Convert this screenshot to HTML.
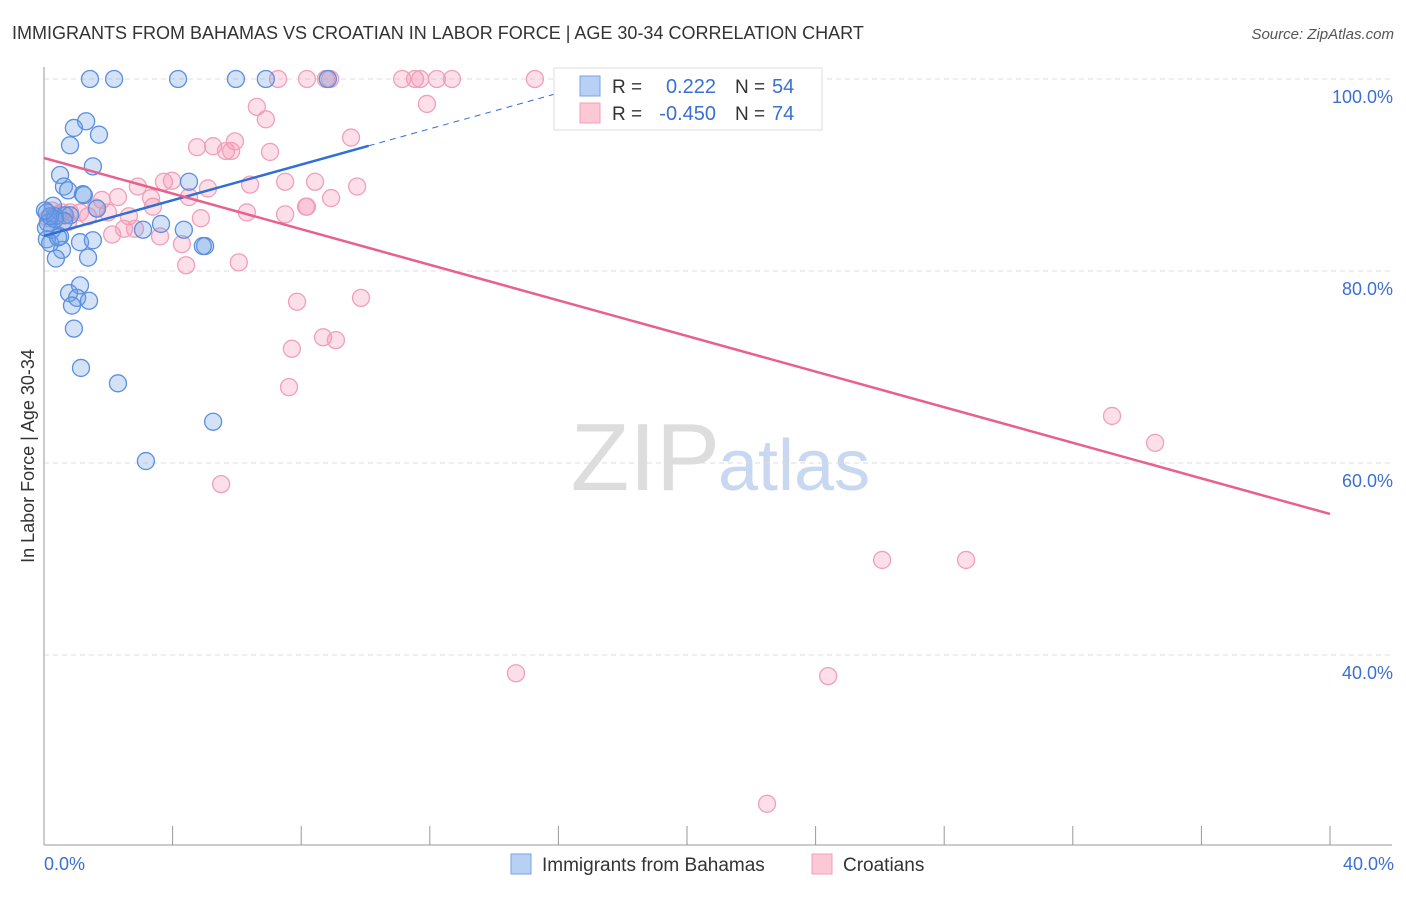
<!DOCTYPE html>
<html><head><meta charset="utf-8"><style>
body{margin:0;background:#fff;font-family:"Liberation Sans",sans-serif;}
svg text{font-family:"Liberation Sans",sans-serif;}
</style></head><body>
<svg width="1406" height="892" viewBox="0 0 1406 892" xmlns="http://www.w3.org/2000/svg">
<text x="12" y="39" font-size="18" fill="#333">IMMIGRANTS FROM BAHAMAS VS CROATIAN IN LABOR FORCE | AGE 30-34 CORRELATION CHART</text>
<text x="1394" y="39" font-size="15" fill="#555" font-style="italic" text-anchor="end">Source: ZipAtlas.com</text>
<text x="720" y="490" font-size="96" fill="#ddd" text-anchor="end" font-family="Liberation Serif">ZIP</text>
<text x="718" y="490" font-size="72" fill="#c8d8f0">atlas</text>
<g id="grid"></g>
<g id="axes"></g>
<g id="pts"></g>
<g id="trend"></g>
<text transform="translate(34,456) rotate(-90)" font-size="18" fill="#333" text-anchor="middle">In Labor Force | Age 30-34</text>
<text x="44" y="870" font-size="18" fill="#3b6fd0">0.0%</text>
<text x="1394" y="870" font-size="18" fill="#3b6fd0" text-anchor="end">40.0%</text>
<g>
<rect x="554" y="68" width="268" height="62" fill="#fff" stroke="#ddd"/>
<rect x="580" y="76" width="20" height="20" fill="#b8d0f4" stroke="#7aa3e6"/>
<rect x="580" y="103" width="20" height="20" fill="#fcc8d6" stroke="#f2a0b8"/>
<text x="612" y="93" font-size="19" fill="#333">R =</text><text x="716" y="93" font-size="20" fill="#3b6fd0" text-anchor="end">0.222</text>
<text x="735" y="93" font-size="19" fill="#333">N =</text><text x="772" y="93" font-size="20" fill="#3b6fd0">54</text>
<text x="612" y="120" font-size="19" fill="#333">R =</text><text x="716" y="120" font-size="20" fill="#3b6fd0" text-anchor="end">-0.450</text>
<text x="735" y="120" font-size="19" fill="#333">N =</text><text x="772" y="120" font-size="20" fill="#3b6fd0">74</text>
</g>
<g>
<rect x="511" y="854" width="20" height="20" fill="#b8d0f4" stroke="#7aa3e6"/>
<text x="542" y="871" font-size="19" fill="#333">Immigrants from Bahamas</text>
<rect x="812" y="854" width="20" height="20" fill="#fcc8d6" stroke="#f2a0b8"/>
<text x="843" y="871" font-size="19" fill="#333">Croatians</text>
</g>
</svg>
<script>
const yTicks=[100,80,60,40];
const yTickLabels=["100.0%","80.0%","60.0%","40.0%"];
const xTicks=[0,4,8,12,16,20,24,28,32,36,40];
const blueX=[1.43,2.18,4.17,5.97,6.9,8.83,1.31,0.93,0.81,1.71,1.52,0.5,0.62,0.75,1.21,1.24,4.51,0.28,0.09,0.34,0.65,0.81,1.65,3.64,4.35,3.08,0.12,0.25,0.5,0.09,1.12,1.52,0.56,1.37,0.37,5.01,4.94,0.78,1.12,1.03,1.4,0.87,0.93,1.15,2.3,5.26,3.17,0.06,0.19,0.34,0.44,0.62,0.19,0.03];
const blueY=[100,100,100,100,100,100,95.6,94.9,93.1,94.2,90.9,90,88.8,88.4,88,87.9,89.3,86.8,86.1,85.7,85.8,85.8,86.5,84.9,84.3,84.3,85,84.3,83.6,83.3,83,83.2,82.2,81.4,81.3,82.6,82.6,77.7,78.5,77.2,76.9,76.4,74,69.9,68.3,64.3,60.2,84.5,82.9,85.4,83.5,85.2,85.7,86.3];
const pinkX=[7.28,8.18,8.77,8.9,11.14,11.54,11.7,12.22,12.69,15.27,16.61,17.29,23.2,6.62,6.9,11.91,9.55,5.94,4.76,5.26,5.66,5.82,7.03,2.92,3.73,3.98,4.51,5.1,6.41,7.5,8.43,9.74,8.93,8.15,2.3,1.8,2.64,3.39,3.33,4.88,6.31,7.5,8.18,2.12,2.49,2.83,3.61,4.29,4.42,6.06,0.25,0.44,0.56,0.81,1.12,1.37,0.75,1.62,1.99,0.12,7.87,9.86,7.71,8.68,9.08,7.62,5.51,33.22,34.56,26.07,28.68,14.68,24.39,22.49];
const pinkY=[100,100,100,100,100,100,100,100,100,100,100,100,100,97.1,95.8,97.4,93.9,93.5,92.9,93,92.5,92.5,92.4,88.8,89.3,89.4,87.7,88.6,89,89.3,89.3,88.8,87.6,86.7,87.7,87.4,85.7,86.7,87.6,85.5,86.1,85.9,86.7,83.8,84.4,84.4,83.6,82.8,80.6,80.9,86.3,85.9,86.1,86.1,86.1,85.7,85.1,86.6,86.1,85.5,76.8,77.2,71.9,73.1,72.8,67.9,57.8,64.9,62.1,49.9,49.9,38.1,37.8,24.5];
const blueTrend=[83.65,0.93];
const pinkTrend=[91.77,-0.927];
const NS='http://www.w3.org/2000/svg';
function sx(v){return 44+v*32.15;}
function sy(v){return 79+(100-v)*9.6;}
function mk(tag,attrs,parent){const e=document.createElementNS(NS,tag);for(const k in attrs)e.setAttribute(k,attrs[k]);parent.appendChild(e);return e;}
const grid=document.getElementById('grid');
yTicks.forEach((t,i)=>{
  const l=mk('line',{x1:44,x2:1392,y1:sy(t),y2:sy(t),stroke:'#ddd','stroke-dasharray':'5,4'},grid);
  
  
  const tx=mk('text',{x:1393,y:sy(t)+24,'font-size':18,fill:'#3b6fd0','text-anchor':'end'},grid);
  tx.textContent=yTickLabels[i];
  
  
});
const ax=document.getElementById('axes');
const yl=mk('line',{x1:44,x2:44,y1:67,y2:845,stroke:'#999'},ax);


const xl=mk('line',{x1:44,x2:1392,y1:845,y2:845,stroke:'#999'},ax);


xTicks.forEach(t=>{
  const k=mk('line',{x1:sx(t),x2:sx(t),y1:826,y2:845,stroke:'#999'},ax);
  
  
});
const pts=document.getElementById('pts');
pinkX.forEach((v,i)=>{
  const c=mk('circle',{cx:sx(v),cy:sy(pinkY[i]),r:8.5,fill:'rgba(245,150,180,0.3)',stroke:'#f0a0b8','stroke-width':1.3},pts);
  
  
});
blueX.forEach((v,i)=>{
  const c=mk('circle',{cx:sx(v),cy:sy(blueY[i]),r:8.5,fill:'rgba(110,160,230,0.3)',stroke:'#5b8fe0','stroke-width':1.3},pts);
  
  
});
const tr=document.getElementById('trend');
const f=(p,x)=>p[0]+p[1]*x;
const b1=mk('line',{x1:sx(0),y1:sy(f(blueTrend,0)),x2:sx(10.1),y2:sy(f(blueTrend,10.1)),stroke:'#2f6fd6','stroke-width':2.5},tr);


const b2=mk('line',{x1:sx(10.1),y1:sy(f(blueTrend,10.1)),x2:sx(17),y2:sy(f(blueTrend,17)),stroke:'#2f6fd6','stroke-width':1,'stroke-dasharray':'6,5'},tr);


const p1=mk('line',{x1:sx(0),y1:sy(f(pinkTrend,0)),x2:sx(40),y2:sy(f(pinkTrend,40)),stroke:'#e8608e','stroke-width':2.5},tr);


</script>
</body></html>
